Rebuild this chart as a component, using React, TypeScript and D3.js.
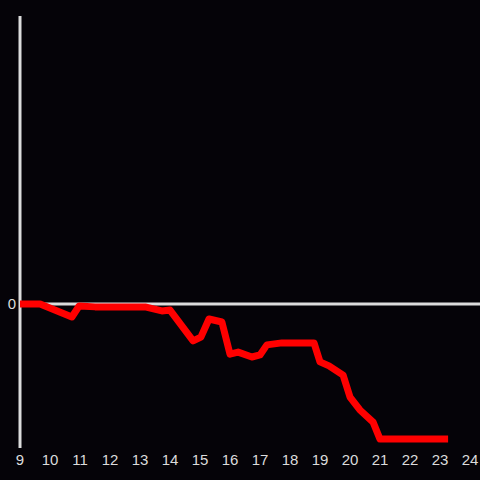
import React from "react";
import * as d3 from "d3";

const hours = [9, 9.67, 10.73, 10.97, 11.5, 13.17, 13.73, 14, 14.77, 15.03, 15.3, 15.73, 16, 16.27, 16.73, 17, 17.23, 17.73, 18.8, 19, 19.3, 19.77, 20, 20.33, 20.77, 21, 23.27];
const values = [0, 0, -4.5, -0.7, -1, -1, -2.4, -2.1, -12.8, -11.5, -5.2, -6.25, -17.4, -16.7, -18.4, -17.7, -14.2, -13.5, -13.5, -20.1, -21.5, -24.7, -32.3, -36.8, -41, -46.9, -46.9];
const xTicks = [9, 10, 11, 12, 13, 14, 15, 16, 17, 18, 19, 20, 21, 22, 23, 24];
const yTicks = [0];

export default function App() {
  const W = 480, H = 480;
  const x = d3.scaleLinear().domain([9, 24]).range([20, 470]);
  const y = d3.scaleLinear().domain([-50, 100]).range([448, 16]);
  const pts: [number, number][] = hours.map((h, i) => [h, values[i]]);
  const line = d3.line<[number, number]>().x(d => x(d[0])).y(d => y(d[1]));
  const axisColor = "#dcdcdc";
  return (
    <svg width={W} height={H} style={{ position: "absolute", left: 0, top: 0, display: "block" }}
      fontFamily="'Liberation Sans', Arial, sans-serif">
      <rect x={0} y={0} width={W} height={H} fill="#050308" />
      <line x1={x(9)} x2={x(9)} y1={y(100)} y2={y(-50)} stroke={axisColor} strokeWidth={3} />
      {yTicks.map(t => (
        <line key={t} x1={x(9)} x2={W} y1={y(t)} y2={y(t)} stroke={axisColor} strokeWidth={3} />
      ))}
      {yTicks.map(t => (
        <text key={"l" + t} x={x(9) - 4} y={y(t)} dy="0.35em" textAnchor="end" fontSize={15} fill={axisColor}>{t}</text>
      ))}
      {xTicks.map(t => (
        <text key={t} x={x(t)} y={460} dy="0.35em" textAnchor="middle" fontSize={15} fill={axisColor}>{t}</text>
      ))}
      <path d={line(pts) || ""} fill="none" stroke="#ff0000" strokeWidth={7} strokeLinejoin="round" strokeLinecap="butt" />
    </svg>
  );
}
